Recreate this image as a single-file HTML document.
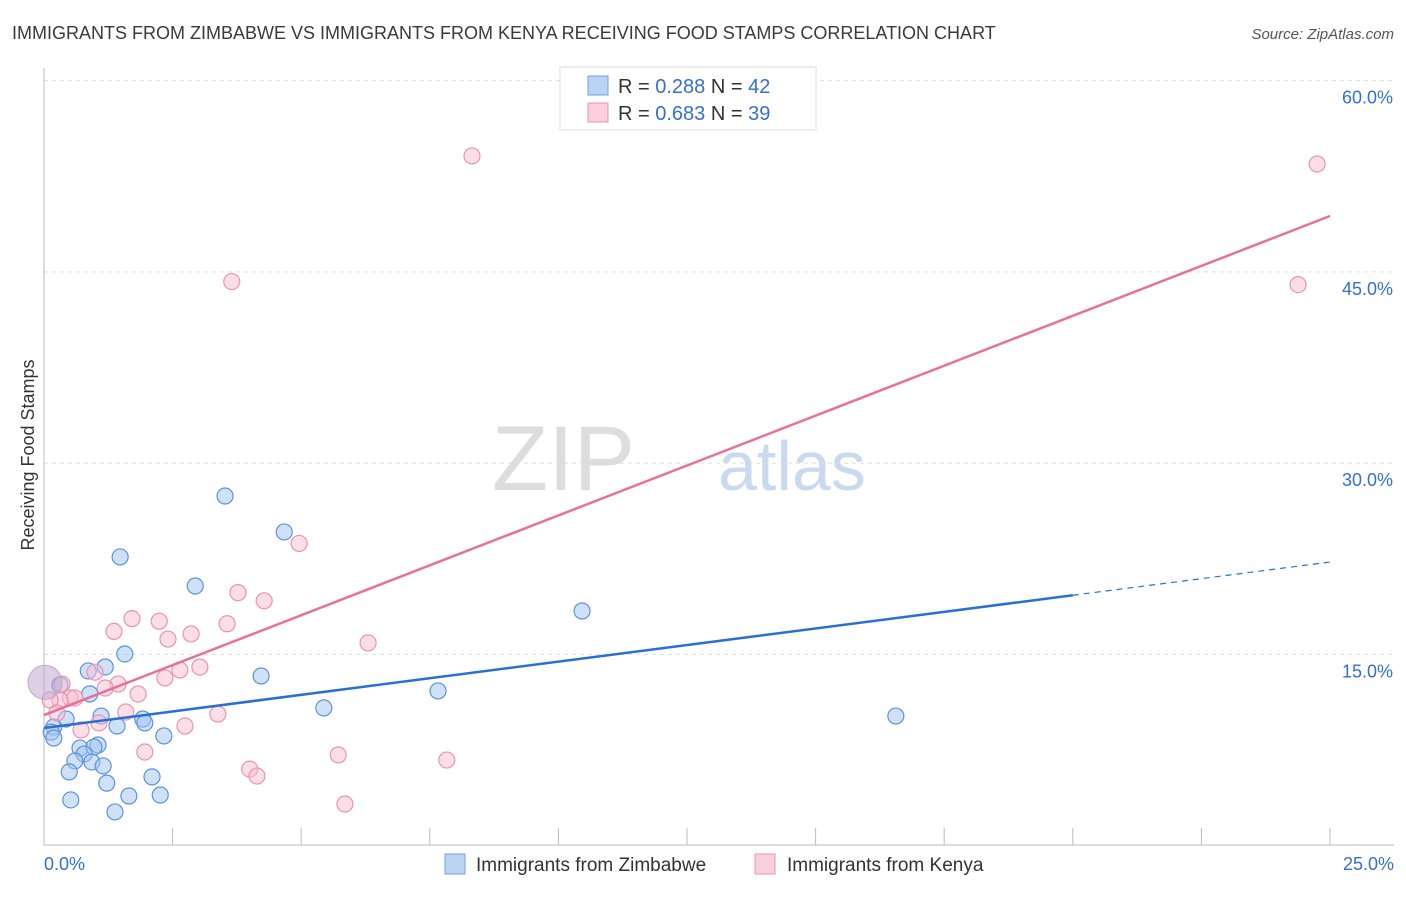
<!DOCTYPE html>
<html><head><meta charset="utf-8"><style>
body{margin:0;background:#fff;font-family:"Liberation Sans",sans-serif}
svg text{font-family:"Liberation Sans",sans-serif}
</style></head><body>
<svg id="chart" width="1406" height="892" viewBox="0 0 1406 892" xmlns="http://www.w3.org/2000/svg">
<text x="12" y="39" font-size="18" fill="#3a3a3a">IMMIGRANTS FROM ZIMBABWE VS IMMIGRANTS FROM KENYA RECEIVING FOOD STAMPS CORRELATION CHART</text>
<text x="1394" y="39" font-size="15" fill="#555" font-style="italic" text-anchor="end">Source: ZipAtlas.com</text>
<g>
<text x="635" y="490" font-size="92" fill="#ddd" text-anchor="end" font-family="Liberation Serif,serif">ZIP</text>
<text x="718" y="490" font-size="70" fill="#c9daf0">atlas</text>
</g>
<g id="grid"></g>
<g id="axes"></g>
<g id="marks"></g>
<text transform="translate(34,455) rotate(-90)" font-size="18" fill="#333" text-anchor="middle">Receiving Food Stamps</text>
<g>
<rect x="560" y="67" width="256" height="63" fill="#fff" stroke="#ddd"/>
<rect x="588" y="76" width="20" height="19" fill="#b9d3f5" stroke="#6fa0e3"/>
<rect x="588" y="103" width="20" height="19" fill="#fbd0dc" stroke="#eb93ad"/>
<text x="618" y="93" font-size="20" fill="#333">R = <tspan fill="#3470d3">0.288</tspan>   N = <tspan fill="#3470d3">42</tspan></text>
<text x="618" y="120" font-size="20" fill="#333">R = <tspan fill="#3470d3">0.683</tspan>   N = <tspan fill="#3470d3">39</tspan></text>
</g>
<g>
<rect x="445" y="854" width="20" height="20" fill="#b9d3f5" stroke="#6fa0e3"/>
<text x="476" y="871" font-size="19" fill="#333">Immigrants from Zimbabwe</text>
<rect x="755" y="854" width="20" height="20" fill="#fbd0dc" stroke="#eb93ad"/>
<text x="787" y="871" font-size="19" fill="#333">Immigrants from Kenya</text>
</g>
</svg>
<script>
const zimX=[3.52,4.67,1.48,2.94,10.46,1.57,1.19,0.86,4.22,7.66,0.31,0.89,5.44,0.43,1.11,1.92,1.96,1.42,0.19,0.14,2.33,0.19,1.05,0.7,0.97,0.78,0.6,0.93,1.15,0.49,2.1,1.22,1.65,2.26,0.52,1.38,16.56];
const zimY=[27.42,24.6,22.64,20.36,18.4,15.03,14.01,13.7,13.3,12.13,12.6,11.9,10.8,9.93,10.16,9.93,9.62,9.38,9.3,8.9,8.6,8.44,7.89,7.65,7.73,7.18,6.64,6.56,6.25,5.78,5.39,4.9,3.89,3.97,3.58,2.64,10.16];
const kenX=[8.32,24.75,3.65,24.38,4.96,3.77,4.28,1.71,2.24,1.36,2.41,2.86,3.56,6.3,3.03,2.64,0.99,2.35,1.44,1.19,1.83,0.35,0.51,0.6,0.31,0.12,1.59,0.25,3.38,1.07,2.74,0.72,1.96,5.72,7.83,4.0,4.14,5.85];
const kenY=[54.09,53.46,44.24,44.0,23.7,19.84,19.2,17.8,17.6,16.8,16.2,16.6,17.4,15.9,14.0,13.77,13.6,13.15,12.67,12.36,11.89,12.67,11.58,11.58,11.42,11.42,10.48,10.4,10.32,9.62,9.38,9.07,7.34,7.11,6.71,6.0,5.46,3.26];
const bigPoint=[0.02,12.8];
const zimTrend=[9.22,22.24];
const kenTrend=[10.24,49.38];
const zimSolidEnd=20.0;
const yTicks=[15,30,45,60];
const yTickLabels=["15.0%","30.0%","45.0%","60.0%"];
const xTicks=[0,2.5,5,7.5,10,12.5,15,17.5,20,22.5,25];
const NS="http://www.w3.org/2000/svg";
const sx=v=>44+v*51.44, sy=v=>845.6-v*12.75;
function mk(tag,attrs,parent){const e=document.createElementNS(NS,tag);for(const k in attrs)e.setAttribute(k,attrs[k]);document.getElementById(parent).appendChild(e);return e;}
yTicks.forEach((t,i)=>{
 const g=mk('line',{x1:44,x2:1394,y1:sy(t),y2:sy(t),stroke:'#ddd','stroke-dasharray':'4,4'},'grid');
 
 
 const l=mk('text',{x:1393,y:sy(t)+23,'font-size':18,fill:'#3470d3','text-anchor':'end'},'axes');
 l.textContent=yTickLabels[i];
 
 
});
const ax=mk('line',{x1:44,x2:44,y1:68,y2:845,stroke:'#bbb'},'axes');


const bx=mk('line',{x1:44,x2:1394,y1:845,y2:845,stroke:'#bbb'},'axes');


xTicks.forEach(t=>{if(t===0)return;
 const k=mk('line',{x1:sx(t),x2:sx(t),y1:828,y2:845,stroke:'#bbb'},'axes');
 
 
});
const x0=mk('text',{x:44,y:870,'font-size':18,fill:'#3470d3'},'axes');x0.textContent="0.0%";


const x1=mk('text',{x:1394,y:870,'font-size':18,fill:'#3470d3','text-anchor':'end'},'axes');x1.textContent="25.0%";


zimX.forEach((x,i)=>{
 const c=mk('circle',{cx:sx(x),cy:sy(zimY[i]),r:8,fill:'rgba(160,196,240,0.5)',stroke:'#5b93de','stroke-width':1.2},'marks');
 
 
});
kenX.forEach((x,i)=>{
 const c=mk('circle',{cx:sx(x),cy:sy(kenY[i]),r:8,fill:'rgba(248,190,208,0.5)',stroke:'#eb93ad','stroke-width':1.2},'marks');
 
 
});
const bp=mk('circle',{cx:sx(bigPoint[0]),cy:sy(bigPoint[1]),r:17,fill:'rgba(190,170,210,0.55)',stroke:'#c9a3c0','stroke-width':1},'marks');


const zy=x=>zimTrend[0]+(zimTrend[1]-zimTrend[0])*x/25;
const zl=mk('line',{x1:sx(0),y1:sy(zimTrend[0]),x2:sx(zimSolidEnd),y2:sy(zy(zimSolidEnd)),stroke:'#2a6fd6','stroke-width':2.5},'marks');


const zd=mk('line',{x1:sx(zimSolidEnd),y1:sy(zy(zimSolidEnd)),x2:sx(25),y2:sy(zimTrend[1]),stroke:'#2a6fd6','stroke-width':1.2,'stroke-dasharray':'6,5'},'marks');


const kl=mk('line',{x1:sx(0),y1:sy(kenTrend[0]),x2:sx(25),y2:sy(kenTrend[1]),stroke:'#e8709a','stroke-width':2.5},'marks');


</script>
</body></html>
